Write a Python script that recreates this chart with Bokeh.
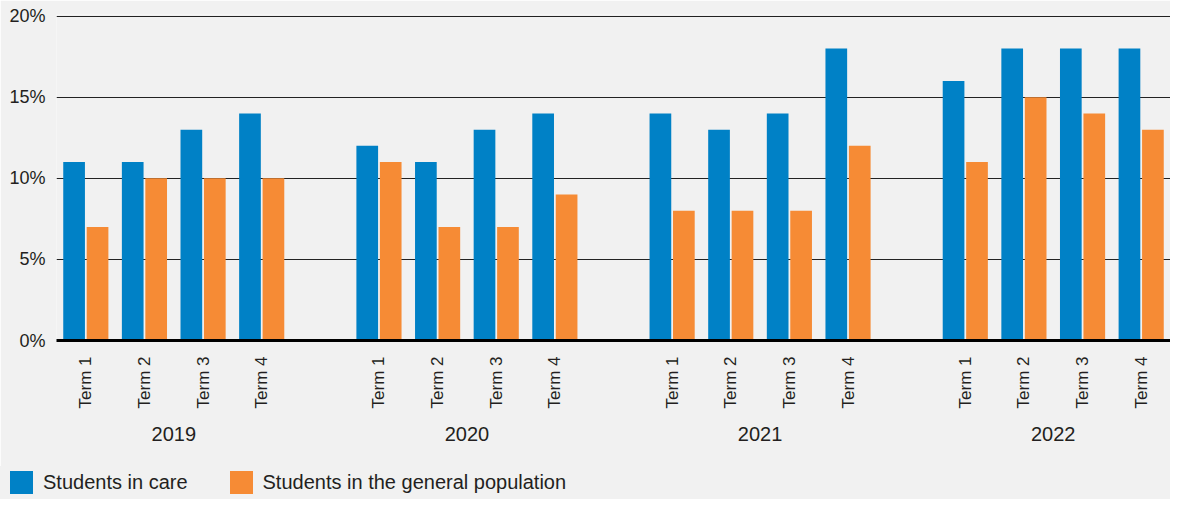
import math
from bokeh.plotting import figure
from bokeh.layouts import column
from bokeh.models import (ColumnDataSource, FactorRange, Range1d, FixedTicker,
                          PrintfTickFormatter, Div)
from bokeh.transform import dodge
from bokeh.embed import file_html
from bokeh.resources import INLINE

years = ["2019", "2020", "2021", "2022"]
terms = ["Term 1", "Term 2", "Term 3", "Term 4"]
students_in_care = [11, 11, 13, 14, 12, 11, 13, 14, 14, 13, 14, 18, 16, 18, 18, 18]
general_population = [7, 10, 10, 10, 11, 7, 7, 9, 8, 8, 8, 12, 11, 15, 14, 13]
series_names = ["Students in care", "Students in the general population"]
y_ticks = [0, 5, 10, 15, 20]

BLUE = "#0081C6"
ORANGE = "#F68B35"
BG = "#F1F1F1"
TXT = "#231F20"
FONT = "Liberation Sans"

factors = [(y, t) for y in years for t in terms]
source = ColumnDataSource(data=dict(x=factors, care=students_in_care, general=general_population))

x_range = FactorRange(*factors, group_padding=1.0, factor_padding=0.0, range_padding=0.0)

p = figure(x_range=x_range, y_range=Range1d(0, 20.1),
           width=1170, height=466,
           output_backend="svg", toolbar_location=None,
           background_fill_color=BG, border_fill_color=BG,
           min_border_left=56, min_border_right=0, min_border_top=14, min_border_bottom=126)
p.outline_line_color = None

p.vbar(x=dodge("x", -0.2, range=p.x_range), top="care", width=0.37, source=source,
       fill_color=BLUE, line_color=None)
p.vbar(x=dodge("x", 0.2, range=p.x_range), top="general", width=0.37, source=source,
       fill_color=ORANGE, line_color=None)

# y axis
p.yaxis.ticker = FixedTicker(ticks=y_ticks)
p.yaxis.formatter = PrintfTickFormatter(format="%d%%")
p.yaxis.axis_line_color = None
p.yaxis.major_tick_line_color = None
p.yaxis.minor_tick_line_color = None
p.yaxis.major_tick_out = 0
p.yaxis.major_tick_in = 0
p.yaxis.major_label_standoff = 11
p.yaxis.major_label_text_font = FONT
p.yaxis.major_label_text_font_size = "18px"
p.yaxis.major_label_text_color = TXT

p.ygrid.ticker = FixedTicker(ticks=y_ticks)
p.ygrid.grid_line_color = "#222222"
p.ygrid.grid_line_width = 1
p.xgrid.grid_line_color = None

# x axis
xa = p.xaxis[0]
xa.axis_line_color = "#000000"
xa.axis_line_width = 3
xa.major_tick_line_color = None
xa.minor_tick_line_color = None
xa.major_tick_out = 0
xa.major_tick_in = 0
xa.major_label_orientation = math.pi / 2
xa.major_label_standoff = 16
xa.major_label_text_font = FONT
xa.major_label_text_font_size = "17px"
xa.major_label_text_color = TXT
xa.group_text_font = FONT
xa.group_text_font_size = "20px"
xa.group_text_color = TXT
xa.group_text_font_style = "normal"
xa.separator_line_color = None

# legend strip below the chart
def key(color, name, first):
    ml = "0" if first else "42px"
    return (f'<span style="display:inline-block;width:23px;height:23px;background:{color};'
            f'margin-left:{ml};margin-right:10px;"></span>'
            f'<span style="white-space:nowrap;">{name}</span>')

legend_html = (f'<div style="display:flex;align-items:center;height:33px;padding-left:10px;'
               f'font-family:\'{FONT}\';font-size:20px;color:{TXT};background:{BG};">'
               + key(BLUE, series_names[0], True)
               + key(ORANGE, series_names[1], False)
               + '</div>')
legend_div = Div(text=legend_html, width=1170, height=33, margin=0,
                 styles={"background-color": BG})

layout = column(p, legend_div, spacing=0)
open("out.html", "w").write(file_html(layout, INLINE))
